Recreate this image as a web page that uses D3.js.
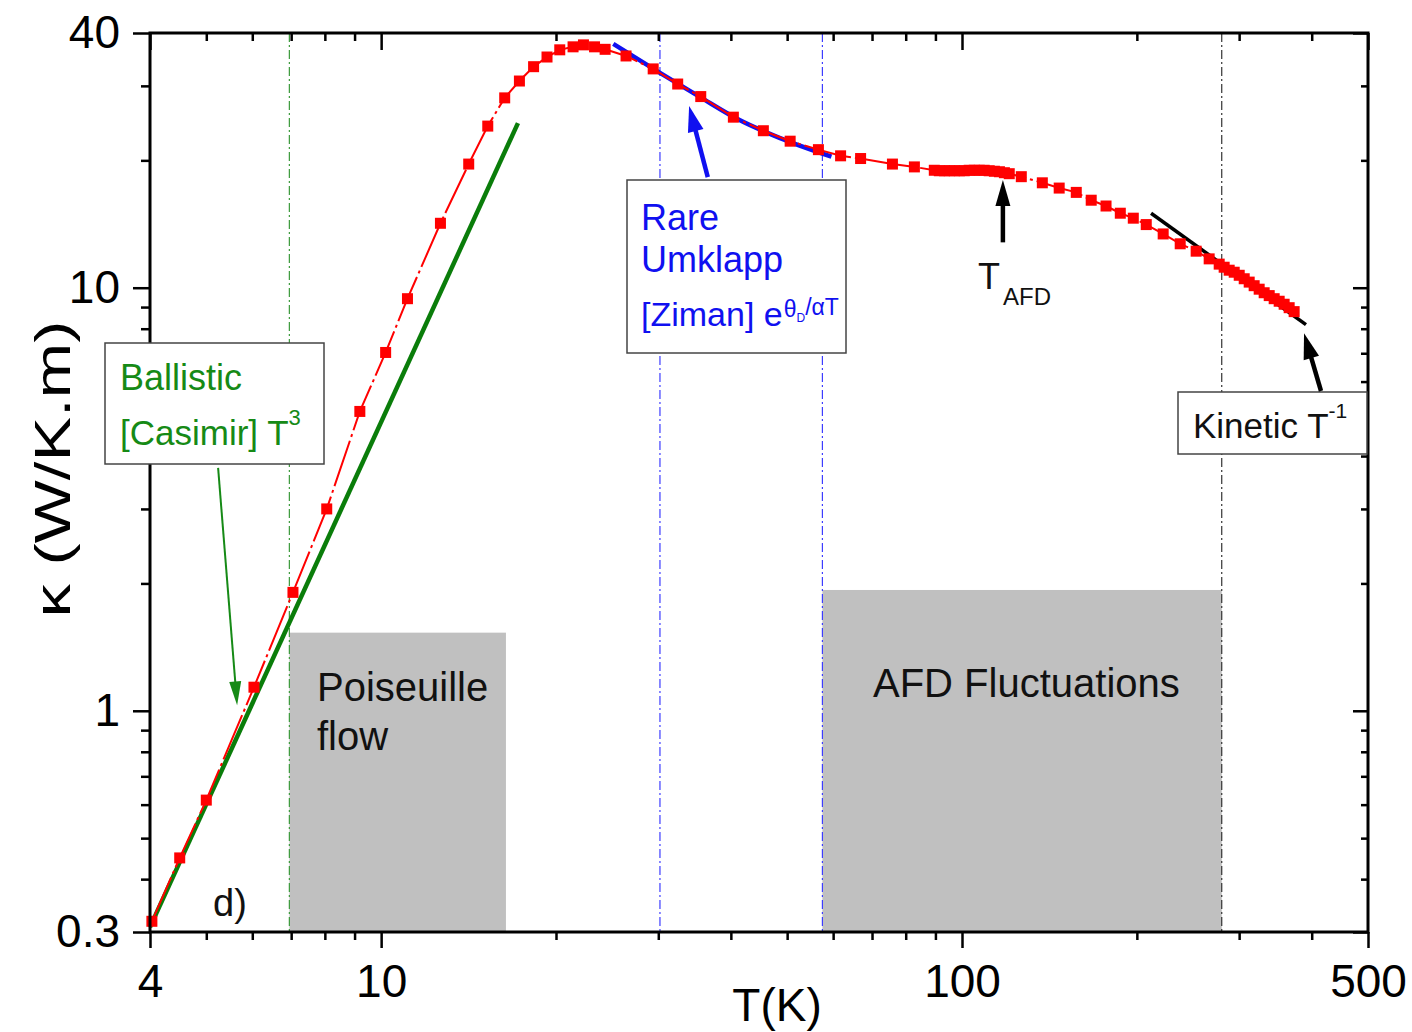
<!DOCTYPE html>
<html>
<head>
<meta charset="utf-8">
<script src="https://cdnjs.cloudflare.com/ajax/libs/d3/7.8.5/d3.min.js"></script>
<style>
body { margin: 0; background: #fff; }
svg text { font-family: "Liberation Sans", Arial, sans-serif; }
</style>
</head>
<body>
<svg id="chart" width="1412" height="1032"></svg>
<script>
// measured thermal conductivity, T in K and kappa in W/K.m
var tempK = [4.03, 4.50, 5.00, 6.04, 7.05, 8.06, 9.19, 10.18, 11.1, 12.65, 14.15, 15.26, 16.32, 17.3,
    18.3, 19.3, 20.3, 21.4, 22.3, 23.3, 24.3, 26.4, 29.4, 32.4, 35.5, 40.4, 45.5, 50.6, 56.6, 61.8,
    66.9, 75.9, 82.8, 89.6, 91.4, 93.3, 95.1, 97.0, 99.0, 100.9, 102.9, 105.0, 107.1, 109.2, 111.4,
    113.7, 116.0, 118.3, 120.6, 126.5, 137.5, 147, 157.3, 166.9, 177, 187.3, 197.2, 207.6, 222,
    237.5, 253, 266.4, 277.2, 282.7, 288.4, 294.2, 300.1, 306.1, 312.2, 318.4, 324.8, 331.3, 338.0,
    344.7, 351.6, 358.6, 365.8, 373.1];
var kappa = [0.318, 0.449, 0.615, 1.137, 1.905, 3.00, 5.10, 7.03, 9.42, 14.2, 19.6, 24.1, 28.1, 30.8,
    33.3, 35.1, 36.5, 37.1, 37.5, 37.1, 36.6, 35.3, 32.9, 30.3, 28.3, 25.3, 23.5, 22.2, 21.2, 20.5,
    20.2, 19.6, 19.3, 18.95, 18.9, 18.9, 18.9, 18.9, 18.9, 18.9, 18.95, 18.95, 18.95, 18.95, 18.9,
    18.85, 18.8, 18.7, 18.6, 18.3, 17.7, 17.2, 16.8, 16.1, 15.6, 15.0, 14.6, 14.1, 13.4,
    12.7, 12.2, 11.7, 11.37, 11.18, 11.00, 10.88, 10.70, 10.50, 10.31, 10.11, 9.92, 9.73, 9.58,
    9.42, 9.29, 9.14, 8.97, 8.78];

// fitted laws
var casimirT = [4, 17.2];
var casimirK = [0.308, 24.5];
var zimanT = [25.1, 30.2, 35.3, 41.4, 48.5, 59.6];
var zimanK = [37.7, 32.2, 28.3, 24.9, 22.6, 20.4];
var kineticT = [211.6, 391];
var kineticK = [15.0, 8.18];

// shaded regimes and boundary markers
var regionLabels = ['Poiseuille flow', 'AFD Fluctuations'];
var regionFrom = [6.95, 57.5];
var regionTo = [16.4, 280];
var regionTop = [1.53, 1.93];
var markerT = [6.95, 30.2, 57.5, 280];
var markerColor = ['#3c9a3c', '#3d3dff', '#3d3dff', '#333'];

var xTicks = [4, 10, 100, 500];
var yTicks = [0.3, 1, 10, 40];

var svg = d3.select('#chart');
var mLeft = 150, mRight = 1368, mTop = 33, mBottom = 932;

var x = d3.scaleLog().domain([4, 500]).range([mLeft, mRight]);
var y = d3.scaleLog().domain([0.3, 40]).range([mBottom, mTop]);

var xMinor = [], yMinor = [];
[1, 10, 100].forEach(function(d){
    for (var i = 2; i < 10; i++) {
        var v = i * d;
        if (v > 4 && v < 500 && xTicks.indexOf(v) < 0) xMinor.push(v);
    }
});
[0.1, 1, 10].forEach(function(d){
    for (var i = 1; i < 10; i++) {
        var v = +(i * d).toFixed(2);
        if (v > 0.3 && v < 40 && yTicks.indexOf(v) < 0) yMinor.push(v);
    }
});

// shaded regions
var regions = regionLabels.map(function(l, i){
    return {label: l, t0: regionFrom[i], t1: regionTo[i], top: regionTop[i]};
});
svg.selectAll('rect.region')
    .data(regions)
    .enter()
    .append('rect')
    .attr('class', 'region')
    .attr('x', function(d){ return x(d.t0); })
    .attr('y', function(d){ return y(d.top); })
    .attr('width', function(d){ return x(d.t1) - x(d.t0); })
    .attr('height', function(d){ return mBottom - y(d.top); })
    .attr('fill', '#c0c0c0');

// dash-dot boundaries
svg.selectAll('line.marker')
    .data(markerT)
    .enter()
    .append('line')
    .attr('x1', function(d){ return x(d); })
    .attr('x2', function(d){ return x(d); })
    .attr('y1', mTop)
    .attr('y2', mBottom)
    .attr('stroke', function(d, i){ return markerColor[i]; })
    .attr('stroke-width', 1.2)
    .attr('stroke-dasharray', '9,3,2,3');

var line = d3.line()
    .x(function(d){ return x(d[0]); })
    .y(function(d){ return y(d[1]); });

var zip = function(a, b){ return a.map(function(v, i){ return [v, b[i]]; }); };

svg.append('path')
    .datum(zip(casimirT, casimirK))
    .attr('d', line)
    .attr('fill', 'none')
    .attr('stroke', '#0a7d0a')
    .attr('stroke-width', 4.5);

svg.append('path')
    .datum(zip(zimanT, zimanK))
    .attr('d', line.curve(d3.curveMonotoneX))
    .attr('fill', 'none')
    .attr('stroke', '#1010f0')
    .attr('stroke-width', 4.5);
line.curve(d3.curveLinear);

svg.append('path')
    .datum(zip(kineticT, kineticK))
    .attr('d', line)
    .attr('fill', 'none')
    .attr('stroke', '#000')
    .attr('stroke-width', 3.5);

// data
var dataGraph = zip(tempK, kappa);
svg.append('path')
    .datum(dataGraph)
    .attr('d', line)
    .attr('fill', 'none')
    .attr('stroke', '#ff0000')
    .attr('stroke-width', 2)
    .attr('stroke-dasharray', '48,4,3,4');

svg.selectAll('rect.coordPoint')
    .data(dataGraph)
    .enter()
    .append('rect')
    .attr('class', 'coordPoint')
    .attr('x', function(d){ return x(d[0]) - 5.5; })
    .attr('y', function(d){ return y(d[1]) - 5.5; })
    .attr('width', 11)
    .attr('height', 11)
    .attr('fill', '#ff0000');

// axes
var fmt = function(d){ return d3.format('~g')(d); };
var axisStyle = function(g){
    g.select('.domain').remove();
    g.selectAll('line').attr('stroke', '#000').attr('stroke-width', 2.5);
    g.selectAll('text').attr('font-size', 46).attr('fill', '#000')
        .style('font-family', '"Liberation Sans", Arial, sans-serif');
};

svg.append('g').attr('transform', 'translate(0,' + mBottom + ')')
    .call(d3.axisBottom(x).tickValues(xTicks).tickFormat(fmt).tickSize(16).tickPadding(16).tickSizeOuter(0))
    .call(axisStyle);
svg.append('g').attr('transform', 'translate(0,' + mBottom + ')')
    .call(d3.axisBottom(x).tickValues(xMinor).tickFormat('').tickSize(8).tickSizeOuter(0))
    .call(axisStyle);
svg.append('g').attr('transform', 'translate(0,' + mTop + ')')
    .call(d3.axisTop(x).tickValues(xTicks).tickFormat('').tickSize(-17).tickSizeOuter(0))
    .call(axisStyle);
svg.append('g').attr('transform', 'translate(0,' + mTop + ')')
    .call(d3.axisTop(x).tickValues(xMinor).tickFormat('').tickSize(-8).tickSizeOuter(0))
    .call(axisStyle);
svg.append('g').attr('transform', 'translate(' + mLeft + ',0)')
    .call(d3.axisLeft(y).tickValues(yTicks).tickFormat(fmt).tickSize(17).tickPadding(13).tickSizeOuter(0))
    .call(axisStyle);
svg.append('g').attr('transform', 'translate(' + mLeft + ',0)')
    .call(d3.axisLeft(y).tickValues(yMinor).tickFormat('').tickSize(9).tickSizeOuter(0))
    .call(axisStyle);
svg.append('g').attr('transform', 'translate(' + mRight + ',0)')
    .call(d3.axisRight(y).tickValues(yTicks).tickFormat('').tickSize(-15).tickSizeOuter(0))
    .call(axisStyle);
svg.append('g').attr('transform', 'translate(' + mRight + ',0)')
    .call(d3.axisRight(y).tickValues(yMinor).tickFormat('').tickSize(-7).tickSizeOuter(0))
    .call(axisStyle);

svg.append('rect')
    .attr('x', mLeft).attr('y', mTop)
    .attr('width', mRight - mLeft).attr('height', mBottom - mTop)
    .attr('fill', 'none').attr('stroke', '#000').attr('stroke-width', 3);

svg.append('text')
    .attr('x', 777).attr('y', 1021)
    .attr('text-anchor', 'middle')
    .attr('font-size', 46)
    .text('T(K)');

svg.append('text')
    .attr('transform', 'translate(70,469) rotate(-90)')
    .attr('text-anchor', 'middle')
    .attr('font-size', 50)
    .attr('textLength', 297)
    .attr('lengthAdjust', 'spacingAndGlyphs')
    .text('\u03ba (W/K.m)');

// annotations
var arrow = function(t1, k1, t2, k2, color, width, headLen, headHalf){
    var x1 = x(t1), y1 = y(k1), x2 = x(t2), y2 = y(k2);
    var dx = x2 - x1, dy = y2 - y1, len = Math.sqrt(dx * dx + dy * dy);
    var ux = dx / len, uy = dy / len;
    var bx = x2 - ux * headLen, by = y2 - uy * headLen;
    svg.append('line')
        .attr('x1', x1).attr('y1', y1).attr('x2', bx + ux * 2).attr('y2', by + uy * 2)
        .attr('stroke', color).attr('stroke-width', width);
    svg.append('path')
        .attr('d', 'M' + x2 + ',' + y2 +
            'L' + (bx - uy * headHalf) + ',' + (by + ux * headHalf) +
            'L' + (bx + uy * headHalf) + ',' + (by - ux * headHalf) + 'Z')
        .attr('fill', color);
};

var box = function(x0, y0, w, h){
    svg.append('rect')
        .attr('x', x0).attr('y', y0).attr('width', w).attr('height', h)
        .attr('fill', '#fff').attr('stroke', '#444').attr('stroke-width', 1.5);
};

var label = function(x0, y0, size, color, parts){
    var t = svg.append('text').attr('x', x0).attr('y', y0)
        .attr('font-size', size).attr('fill', color);
    parts.forEach(function(p){
        var s = t.append('tspan').text(p.text);
        if (p.size) s.attr('font-size', p.size);
        if (p.dy) s.attr('dy', p.dy);
        if (p.dx) s.attr('dx', p.dx);
    });
    return t;
};

// Ballistic
box(105, 343, 219, 121);
label(120, 390, 36, '#168a16', [{text: 'Ballistic'}]);
label(120, 445, 35, '#168a16', [{text: '[Casimir] T'}, {text: '3', size: 22, dy: -20}]);
arrow(5.24, 3.75, 5.65, 1.03, '#168a16', 2, 24, 6);

// Rare Umklapp
box(627, 180, 219, 173);
label(641, 230, 36, '#1010f0', [{text: 'Rare'}]);
label(641, 272, 36, '#1010f0', [{text: 'Umklapp'}]);
label(641, 326, 34, '#1010f0', [{text: '[Ziman] e'}, {text: '\u03b8', size: 23, dy: -9, dx: 1},
    {text: 'D', size: 12, dy: 5}, {text: '/\u03b1T', size: 23, dy: -7}]);
arrow(36.5, 18.26, 33.9, 26.9, '#1010f0', 4.5, 26, 8);

// T_AFD
arrow(117.6, 12.8, 117.6, 17.97, '#000', 4.5, 26, 7.5);
label(978, 289, 36, '#111', [{text: 'T'}, {text: 'AFD', size: 24, dy: 16, dx: 3}]);

// Kinetic
box(1178, 392, 189, 62);
label(1193, 438, 35, '#111', [{text: 'Kinetic T'}, {text: '-1', size: 21, dy: -20}]);
arrow(415, 5.70, 388, 7.81, '#000', 4.5, 26, 8);

// region texts
label(317, 701, 40, '#111', [{text: 'Poiseuille'}]);
label(317, 750, 40, '#111', [{text: 'flow'}]);
label(873, 697, 40, '#111', [{text: 'AFD Fluctuations'}]);
label(213, 916, 38, '#111', [{text: 'd)'}]);
</script>
</body>
</html>
